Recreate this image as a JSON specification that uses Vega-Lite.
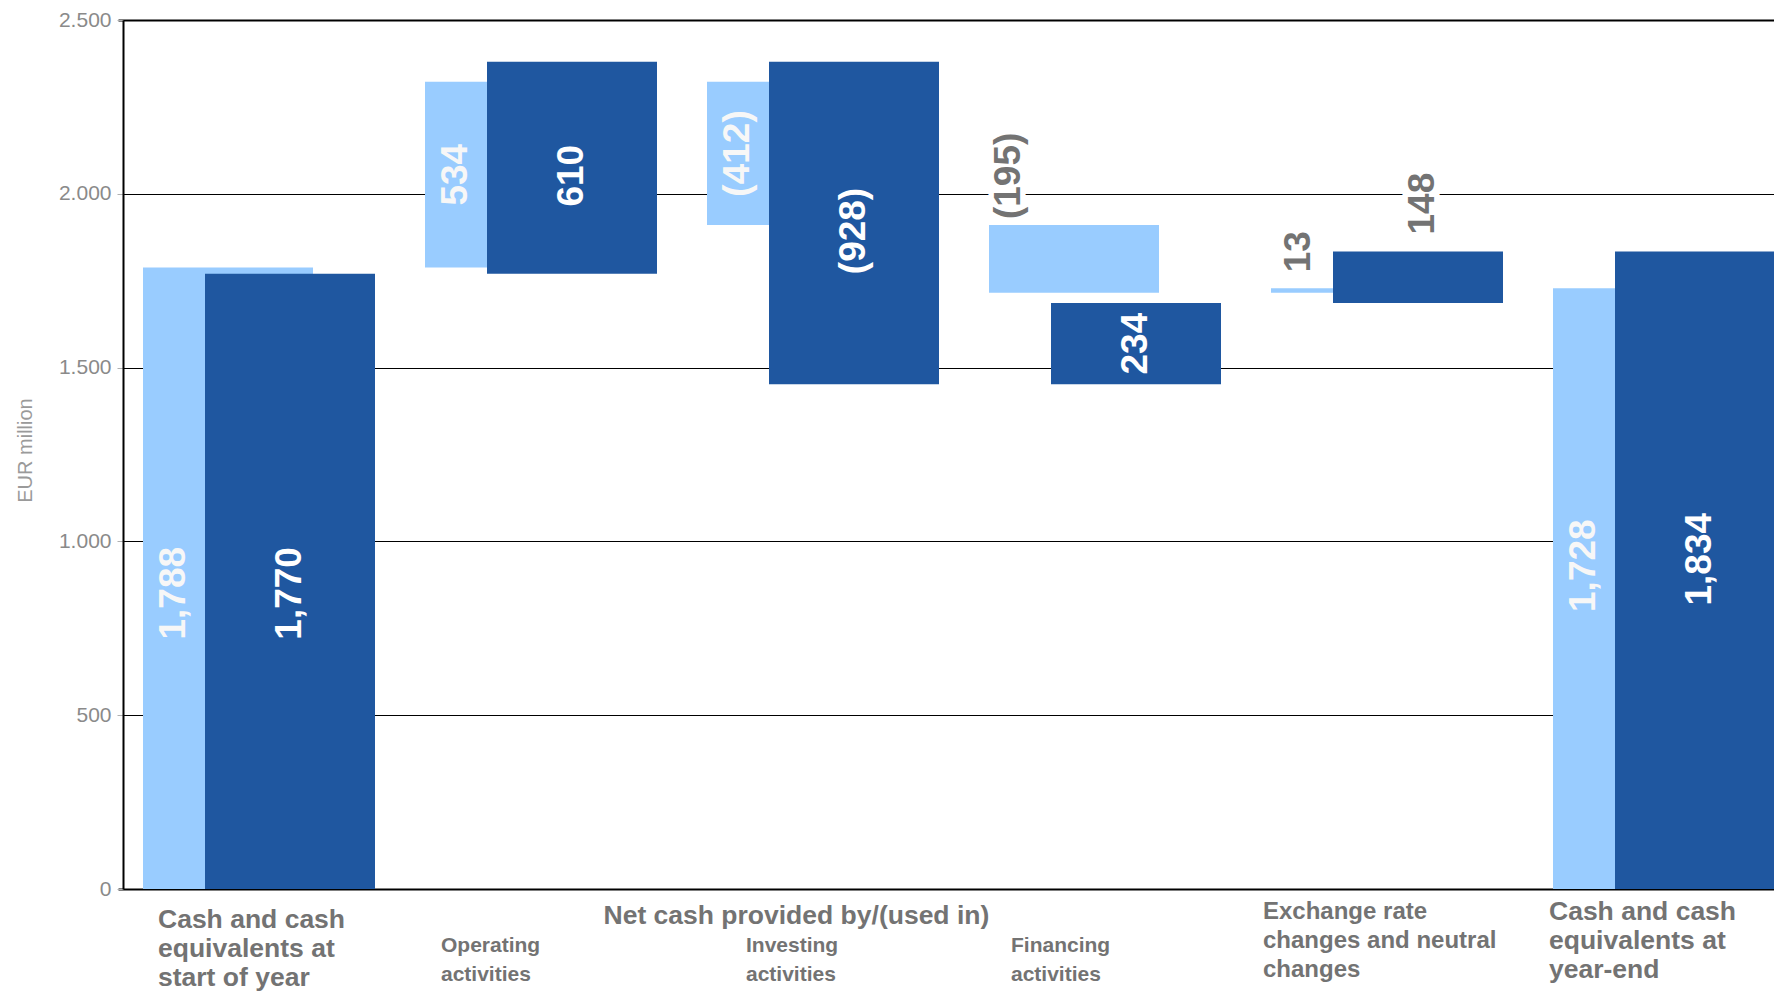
{
  "$schema": "https://vega.github.io/schema/vega-lite/v6.json",
  "width": 1651,
  "height": 869,
  "autosize": {"type": "none"},
  "padding": {"left": 123, "top": 20, "right": 0, "bottom": 107},
  "background": "white",
  "config": {"view": {"stroke": null}, "font": "Liberation Sans"},
  "data": {
    "values": [
      {"category": "Cash and cash|equivalents at|start of year", "series": "PY", "start": 0, "end": 1788, "label": "1,788"},
      {"category": "Cash and cash|equivalents at|start of year", "series": "CY", "start": 0, "end": 1770, "label": "1,770"},
      {"category": "Operating|activities", "series": "PY", "start": 1788, "end": 2322, "label": "534"},
      {"category": "Operating|activities", "series": "CY", "start": 1770, "end": 2380, "label": "610"},
      {"category": "Investing|activities", "series": "PY", "start": 2322, "end": 1910, "label": "(412)"},
      {"category": "Investing|activities", "series": "CY", "start": 2380, "end": 1452, "label": "(928)"},
      {"category": "Financing|activities", "series": "PY", "start": 1910, "end": 1715, "label": "(195)"},
      {"category": "Financing|activities", "series": "CY", "start": 1452, "end": 1686, "label": "234"},
      {"category": "Exchange rate|changes and neutral|changes", "series": "PY", "start": 1715, "end": 1728, "label": "13"},
      {"category": "Exchange rate|changes and neutral|changes", "series": "CY", "start": 1686, "end": 1834, "label": "148"},
      {"category": "Cash and cash|equivalents at|year-end", "series": "PY", "start": 0, "end": 1728, "label": "1,728"},
      {"category": "Cash and cash|equivalents at|year-end", "series": "CY", "start": 0, "end": 1834, "label": "1,834"}
    ]
  },
  "encoding": {
    "x": {
      "field": "category",
      "type": "nominal",
      "sort": null,
      "scale": {"range": [-5, 1687], "paddingInner": 0, "paddingOuter": 0},
      "axis": {
        "title": "Net cash provided by/(used in)",
        "titleFont": "Liberation Sans",
        "titleFontWeight": "bold",
        "titleFontSize": 26.5,
        "titleColor": "#737373",
        "titleAlign": "left",
        "titleBaseline": "top",
        "titleX": 480,
        "titleY": 13,
        "domain": false,
        "ticks": false,
        "grid": false,
        "labelAngle": 0,
        "labelAlign": "left",
        "labelBaseline": "top",
        "labelFont": "Liberation Sans",
        "labelFontWeight": "bold",
        "labelColor": "#737373",
        "labelLimit": 500,
        "labelOverlap": false,
        "labelLineHeight": 29,
        "labelExpr": "split(datum.label, '|')",
        "labelFontSize": {
          "condition": [
            {"test": "indexof(datum.value, 'activities') >= 0", "value": 21},
            {"test": "indexof(datum.value, 'Exchange') >= 0", "value": 24}
          ],
          "value": 26.5
        },
        "labelOffset": {
          "condition": [
            {"test": "datum.value == 'Cash and cash|equivalents at|start of year'", "value": -101},
            {"test": "datum.value == 'Operating|activities'", "value": -100},
            {"test": "datum.value == 'Investing|activities'", "value": -77},
            {"test": "datum.value == 'Financing|activities'", "value": -94},
            {"test": "datum.value == 'Exchange rate|changes and neutral|changes'", "value": -124}
          ],
          "value": -120
        },
        "labelPadding": {
          "condition": [
            {"test": "datum.value == 'Cash and cash|equivalents at|start of year'", "value": 17},
            {"test": "indexof(datum.value, 'activities') >= 0", "value": 45},
            {"test": "indexof(datum.value, 'Exchange') >= 0", "value": 10}
          ],
          "value": 9
        }
      }
    },
    "y": {
      "field": "start",
      "type": "quantitative",
      "title": "EUR million",
      "scale": {"domain": [0, 2500], "nice": false},
      "axis": {
        "values": [0, 500, 1000, 1500, 2000, 2500],
        "labelExpr": "replace(format(datum.value, ','), ',', '.')",
        "labelFont": "Liberation Sans",
        "labelFontSize": 21,
        "labelColor": "#8a8a8a",
        "labelPadding": 6,
        "tickSize": 6,
        "tickColor": "#b0b0b0",
        "domainColor": "black",
        "domainWidth": 2,
        "gridColor": "black",
        "gridOpacity": 1,
        "gridWidth": {"condition": {"test": "datum.value == 0 || datum.value == 2500", "value": 2}, "value": 1},
        "titleFont": "Liberation Sans",
        "titleFontWeight": "normal",
        "titleFontSize": 20,
        "titleColor": "#9a9a9a",
        "titleAngle": 270,
        "titleAlign": "center",
        "titleBaseline": "middle",
        "titleX": -98,
        "titleY": 430
      }
    }
  },
  "layer": [
    {
      "transform": [{"filter": "datum.series == 'PY'"}],
      "mark": {"type": "bar", "color": "#99CCFF", "width": 170, "xOffset": -31},
      "encoding": {"y2": {"field": "end"}}
    },
    {
      "transform": [{"filter": "datum.series == 'CY'"}],
      "mark": {"type": "bar", "color": "#1F57A0", "width": 170, "xOffset": 31},
      "encoding": {"y2": {"field": "end"}}
    },
    {
      "transform": [
        {"filter": "datum.series == 'PY' && datum.category != 'Financing|activities' && datum.category != 'Exchange rate|changes and neutral|changes'"},
        {"calculate": "(datum.start + datum.end) / 2", "as": "mid"}
      ],
      "mark": {"type": "text", "angle": 270, "font": "Liberation Sans", "fontWeight": "bold", "fontSize": 37, "color": "#f7f7f7", "align": "center", "baseline": "middle", "xOffset": -85,
        "yOffset": {"expr": "datum.label == '1,788' ? 15 : (datum.label == '1,728' ? -23 : 0)"}},
      "encoding": {"y": {"field": "mid", "type": "quantitative", "title": "EUR million"}, "text": {"field": "label"}}
    },
    {
      "transform": [
        {"filter": "datum.series == 'CY' && datum.category != 'Exchange rate|changes and neutral|changes'"},
        {"calculate": "(datum.start + datum.end) / 2", "as": "mid"}
      ],
      "mark": {"type": "text", "angle": 270, "font": "Liberation Sans", "fontWeight": "bold", "fontSize": 37, "color": "white", "align": "center", "baseline": "middle", "xOffset": 31,
        "yOffset": {"expr": "datum.label == '1,770' ? 12 : (datum.label == '1,834' ? -11 : ((datum.label == '610' || datum.label == '(928)') ? 8 : 0))"}},
      "encoding": {"y": {"field": "mid", "type": "quantitative", "title": "EUR million"}, "text": {"field": "label"}}
    },
    {
      "transform": [
        {"filter": "datum.series == 'PY' && datum.category == 'Financing|activities'"},
        {"calculate": "max(datum.start, datum.end)", "as": "top"}
      ],
      "mark": {"type": "text", "angle": 270, "font": "Liberation Sans", "fontWeight": "bold", "fontSize": 37, "color": "white", "stroke": "white", "strokeWidth": 11, "align": "left", "baseline": "middle", "xOffset": -96, "yOffset": -6},
      "encoding": {"y": {"field": "top", "type": "quantitative", "title": "EUR million"}, "text": {"field": "label"}}
    },
    {
      "transform": [
        {"filter": "datum.series == 'PY' && datum.category == 'Financing|activities'"},
        {"calculate": "max(datum.start, datum.end)", "as": "top"}
      ],
      "mark": {"type": "text", "angle": 270, "font": "Liberation Sans", "fontWeight": "bold", "fontSize": 37, "color": "#737373", "align": "left", "baseline": "middle", "xOffset": -96, "yOffset": -6},
      "encoding": {"y": {"field": "top", "type": "quantitative", "title": "EUR million"}, "text": {"field": "label"}}
    },
    {
      "transform": [
        {"filter": "datum.series == 'PY' && datum.category == 'Exchange rate|changes and neutral|changes'"},
        {"calculate": "max(datum.start, datum.end)", "as": "top"}
      ],
      "mark": {"type": "text", "angle": 270, "font": "Liberation Sans", "fontWeight": "bold", "fontSize": 37, "color": "#737373", "align": "left", "baseline": "middle", "xOffset": -88, "yOffset": -16},
      "encoding": {"y": {"field": "top", "type": "quantitative", "title": "EUR million"}, "text": {"field": "label"}}
    },
    {
      "transform": [
        {"filter": "datum.series == 'CY' && datum.category == 'Exchange rate|changes and neutral|changes'"},
        {"calculate": "max(datum.start, datum.end)", "as": "top"}
      ],
      "mark": {"type": "text", "angle": 270, "font": "Liberation Sans", "fontWeight": "bold", "fontSize": 37, "color": "white", "stroke": "white", "strokeWidth": 11, "align": "left", "baseline": "middle", "xOffset": 36, "yOffset": -17},
      "encoding": {"y": {"field": "top", "type": "quantitative", "title": "EUR million"}, "text": {"field": "label"}}
    },
    {
      "transform": [
        {"filter": "datum.series == 'CY' && datum.category == 'Exchange rate|changes and neutral|changes'"},
        {"calculate": "max(datum.start, datum.end)", "as": "top"}
      ],
      "mark": {"type": "text", "angle": 270, "font": "Liberation Sans", "fontWeight": "bold", "fontSize": 37, "color": "#737373", "align": "left", "baseline": "middle", "xOffset": 36, "yOffset": -17},
      "encoding": {"y": {"field": "top", "type": "quantitative", "title": "EUR million"}, "text": {"field": "label"}}
    }
  ]
}
